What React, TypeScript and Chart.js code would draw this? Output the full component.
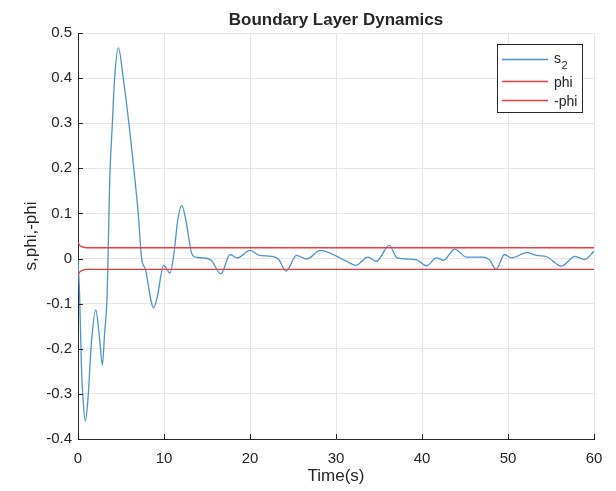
import React, { useEffect, useRef } from 'react';
import { Chart, registerables } from 'chart.js';

Chart.register(...registerables);

// ---- data ----
const sTime = [
  0, 0.2, 0.4, 0.58, 0.86, 1.16, 1.56, 2.06, 2.52, 2.83, 3.1, 3.37, 3.49, 3.69, 3.96, 4.27, 4.7,
  5.24, 6.0, 6.5, 7.0, 7.4, 7.84, 8.54, 8.8, 9.24, 9.95, 10.7, 11.17, 11.6, 12.06, 12.53, 13.19,
  13.5, 14.5, 15.5, 16.6, 17.7, 18.5, 20.0, 21.1, 22.5, 23.3, 24.2, 25.4, 26.6, 28.2, 30.1, 31.2,
  32.3, 33.7, 34.7, 36.2, 37.1, 38.2, 39.4, 40.5, 41.7, 42.5, 43.8, 45.2, 47.1, 47.9, 48.6, 49.6,
  50.4, 52.2, 53.3, 54.5, 56.2, 57.8, 58.9, 60,
];
const sValue = [
  0, -0.09, -0.24, -0.31, -0.36, -0.31, -0.187, -0.114, -0.179, -0.236, -0.164, -0.09, 0, 0.175,
  0.286, 0.403, 0.467, 0.403, 0.286, 0.197, 0.101, 0.0, -0.024, -0.098, -0.109, -0.083, -0.015,
  -0.032, 0.013, 0.086, 0.118, 0.086, 0.013, 0.004, 0.0015, -0.004, -0.034, 0.009, 0.0015, 0.018,
  0.007, 0.005, -0.001, -0.028, 0.007, -0.001, 0.018, 0.005, -0.006, -0.015, 0.003, -0.006, 0.029,
  0.0015, -0.001, -0.003, -0.016, 0.0015, -0.004, 0.021, 0.003, 0.003, -0.004, -0.024, 0.009,
  0.0015, 0.013, 0.007, 0.004, -0.017, 0.005, -0.002, 0.016,
];
const phiTime = [0, 0.15, 0.3, 0.5, 0.8, 1.2, 60];
const phiValue = [0.036, 0.031, 0.028, 0.026, 0.0245, 0.024, 0.024];

const xTicks = [0, 10, 20, 30, 40, 50, 60];
const xTickLabels = ['0', '10', '20', '30', '40', '50', '60'];
const yTicks = [-0.4, -0.3, -0.2, -0.1, 0, 0.1, 0.2, 0.3, 0.4, 0.5];
const yTickLabels = ['-0.4', '-0.3', '-0.2', '-0.1', '0', '0.1', '0.2', '0.3', '0.4', '0.5'];

const seriesLabels = ['s_2', 'phi', '-phi'];
const seriesColors = ['#4a96cc', '#f03c40', '#f03c40'];

const chartTitle = 'Boundary Layer Dynamics';
const xTitle = 'Time(s)';
const yTitle = 's,phi,-phi';

const FONT = '"Liberation Sans", Arial, Helvetica, sans-serif';
const AXIS_COLOR = '#262626';
const GRID_COLOR = '#e6e6e6';

const matlabPlugin = {
  id: 'matlabDecor',
  afterDraw(chart: any) {
    const ctx = chart.ctx as CanvasRenderingContext2D;
    const { left, right, top, bottom } = chart.chartArea;
    const xs = chart.scales.x;
    const ys = chart.scales.y;
    ctx.save();
    // inward ticks
    ctx.strokeStyle = AXIS_COLOR;
    ctx.lineWidth = 1;
    ctx.beginPath();
    xs.ticks.forEach((t: any) => {
      const px = Math.round(xs.getPixelForValue(t.value)) + 0.5;
      ctx.moveTo(px, bottom);
      ctx.lineTo(px, bottom - 5);
    });
    ys.ticks.forEach((t: any) => {
      const py = Math.round(ys.getPixelForValue(t.value)) + 0.5;
      ctx.moveTo(left, py);
      ctx.lineTo(left + 5, py);
    });
    ctx.stroke();

    // title
    ctx.fillStyle = AXIS_COLOR;
    ctx.font = `bold 17px ${FONT}`;
    ctx.textAlign = 'center';
    ctx.textBaseline = 'alphabetic';
    ctx.fillText(chartTitle, (left + right) / 2, top - 8);

    // legend
    const boxW = 85;
    const boxH = 68;
    const bx = Math.round(right - 97);
    const by = Math.round(top + 11);
    ctx.fillStyle = '#ffffff';
    ctx.fillRect(bx, by, boxW, boxH);
    ctx.strokeStyle = AXIS_COLOR;
    ctx.lineWidth = 1;
    ctx.strokeRect(bx + 0.5, by + 0.5, boxW, boxH);
    const lineYs = [15, 37, 56];
    const baseYs = [19, 43, 62];
    seriesLabels.forEach((label: string, i: number) => {
      const ly = by + lineYs[i] + 0.5;
      ctx.beginPath();
      ctx.strokeStyle = seriesColors[i];
      ctx.lineWidth = 1.5;
      ctx.moveTo(bx + 5, ly);
      ctx.lineTo(bx + 51, ly);
      ctx.stroke();
      ctx.fillStyle = AXIS_COLOR;
      ctx.textAlign = 'left';
      ctx.textBaseline = 'alphabetic';
      const tx = bx + 57;
      const ty = by + baseYs[i];
      if (label.includes('_')) {
        const [main, sub] = label.split('_');
        ctx.font = `14px ${FONT}`;
        ctx.fillText(main, tx, ty);
        const w = ctx.measureText(main).width;
        ctx.font = `11px ${FONT}`;
        ctx.fillText(sub, tx + w + 0.5, ty + 6);
      } else {
        ctx.font = `14px ${FONT}`;
        ctx.fillText(label, tx, ty);
      }
    });
    ctx.restore();
  },
};

export default function App() {
  const canvasRef = useRef<HTMLCanvasElement | null>(null);

  useEffect(() => {
    document.body.style.margin = '0';
    const canvas = canvasRef.current;
    if (!canvas) return;
    const sData = sTime.map((t, i) => ({ x: t, y: sValue[i] }));
    const phiData = phiTime.map((t, i) => ({ x: t, y: phiValue[i] }));
    const negPhiData = phiTime.map((t, i) => ({ x: t, y: -phiValue[i] }));

    const chart = new Chart(canvas, {
      type: 'line',
      data: {
        datasets: [
          {
            label: seriesLabels[0],
            data: sData,
            borderColor: seriesColors[0],
            borderWidth: 1.3,
            pointRadius: 0,
            cubicInterpolationMode: 'monotone',
            fill: false,
            order: 1,
          },
          {
            label: seriesLabels[1],
            data: phiData,
            borderColor: seriesColors[1],
            borderWidth: 1.3,
            pointRadius: 0,
            cubicInterpolationMode: 'monotone',
            fill: false,
            order: 0,
          },
          {
            label: seriesLabels[2],
            data: negPhiData,
            borderColor: seriesColors[2],
            borderWidth: 1.3,
            pointRadius: 0,
            cubicInterpolationMode: 'monotone',
            fill: false,
            order: 0,
          },
        ],
      },
      options: {
        responsive: false,
        animation: false,
        devicePixelRatio: 1,
        layout: { padding: { left: 0, right: 22, top: 33, bottom: 0 } },
        plugins: {
          legend: { display: false },
          title: { display: false },
          tooltip: { enabled: false },
        },
        scales: {
          x: {
            type: 'linear',
            min: 0,
            max: 60,
            afterBuildTicks: (s: any) => {
              s.ticks = xTicks.map((v) => ({ value: v }));
            },
            afterFit: (s: any) => {
              s.height = 52;
            },
            ticks: {
              callback: (_v: any, i: number) => xTickLabels[i],
              font: { family: FONT, size: 15 },
              color: AXIS_COLOR,
              padding: 11,
              maxRotation: 0,
              autoSkip: false,
            },
            grid: { color: GRID_COLOR, drawTicks: false, lineWidth: 1 },
            border: { display: true, color: AXIS_COLOR, width: 1 },
            title: {
              display: true,
              text: xTitle,
              font: { family: FONT, size: 17 },
              color: AXIS_COLOR,
              padding: { top: 0, bottom: 4 },
            },
          },
          y: {
            type: 'linear',
            min: -0.4,
            max: 0.5,
            afterBuildTicks: (s: any) => {
              s.ticks = yTicks.map((v) => ({ value: v }));
            },
            afterFit: (s: any) => {
              s.width = 78;
            },
            ticks: {
              callback: (_v: any, i: number) => yTickLabels[i],
              font: { family: FONT, size: 15 },
              color: AXIS_COLOR,
              padding: 6,
              autoSkip: false,
            },
            grid: { color: GRID_COLOR, drawTicks: false, lineWidth: 1 },
            border: { display: true, color: AXIS_COLOR, width: 1 },
            title: {
              display: true,
              text: yTitle,
              font: { family: FONT, size: 17 },
              color: AXIS_COLOR,
              padding: { top: 21, bottom: 0 },
            },
          },
        },
      } as any,
      plugins: [matlabPlugin],
    });
    return () => chart.destroy();
  }, []);

  return (
    <div style={{ position: 'fixed', left: 0, top: 0, width: 616, height: 491, background: '#fff' }}>
      <canvas ref={canvasRef} width={616} height={491} />
    </div>
  );
}
